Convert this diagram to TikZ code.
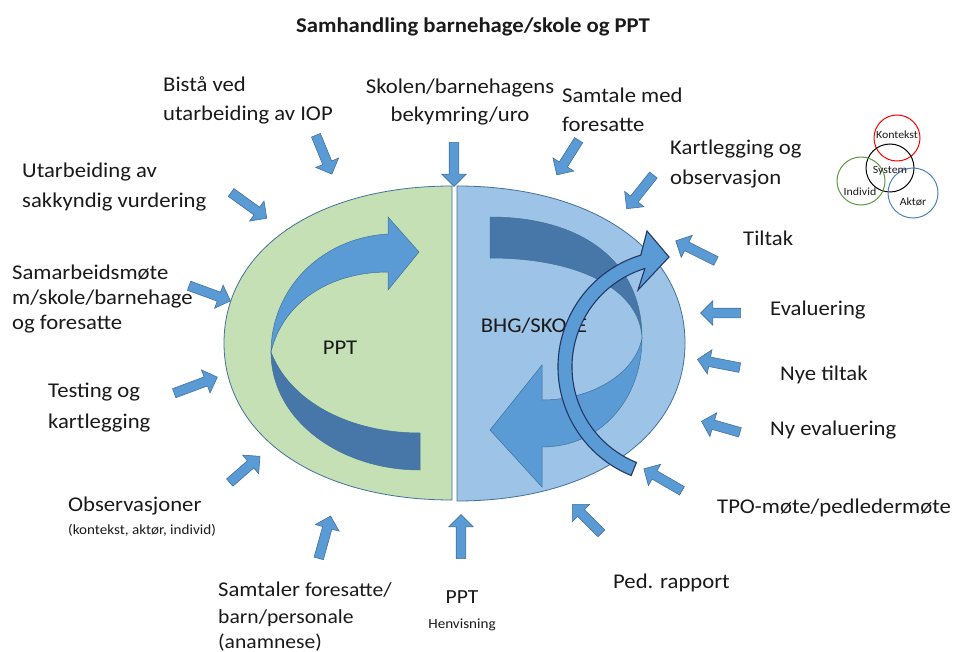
\documentclass[tikz,border=0pt]{standalone}
\usepackage{fontspec}
\setmainfont{Carlito}[FakeStretch=1.08]
\usetikzlibrary{shapes.arrows}
\definecolor{arrfill}{HTML}{5B9BD5}
\definecolor{arrline}{HTML}{41719C}
\definecolor{greenfill}{HTML}{C5E0B4}
\definecolor{bluefill}{HTML}{9DC3E6}
\definecolor{darkband}{HTML}{4677A8}
\definecolor{navyline}{HTML}{203864}
\definecolor{txt}{HTML}{1A1A1A}
\definecolor{venngreen}{HTML}{5E9A44}
\definecolor{vennblue}{HTML}{4F81BD}
\begin{document}
\begin{tikzpicture}[x=1pt,y=-1pt,
  blk/.style={single arrow, draw=arrline, fill=arrfill, line width=0.6pt,
    inner sep=4.5pt, single arrow head extend=7.5pt, single arrow tip angle=90,
    anchor=center},
  lbl/.style={anchor=base west, inner sep=0pt, font=\fontsize{21}{29}\selectfont,
    align=left, text=txt},
  small/.style={anchor=base west, inner sep=0pt, font=\fontsize{14}{16}\selectfont, text=txt},
  venn/.style={line width=1pt},
  vlbl/.style={inner sep=0pt, font=\fontsize{11}{12}\selectfont, text=txt}
]
\useasboundingbox (0,0) rectangle (968,652);
\fill[white] (0,0) rectangle (968,652);

% title
\node[inner sep=0pt, font=\bfseries\fontsize{21}{25}\selectfont, text=txt] (title) at (473,27) {Samhandling barnehage/skole og PPT};

% main halves
\path[draw=arrline, fill=greenfill, line width=0.8pt] (452,186) .. controls (316,186) and (224,250) .. (224,343) .. controls (224,436) and (316,500) .. (452,500) -- cycle;
\path[draw=arrline, fill=bluefill, line width=0.8pt] (457,186) .. controls (593,186) and (685,250) .. (685,343) .. controls (685,436) and (593,501) .. (457,501) -- cycle;

% PPT ribbon arrow
\path[draw=arrline, fill=arrfill, line width=0.5pt] (388,234) .. controls (320,238) and (271,290) .. (271,352) .. controls (283,302) and (330,272) .. (388,272) -- (388,290) -- (419,252) -- (388,217) -- cycle;
\path[draw=arrline, fill=darkband, line width=0.5pt] (271,352) .. controls (271,420) and (340,470) .. (420,470) -- (420,433) .. controls (350,433) and (290,402) .. (271,352) -- cycle;

% BHG ribbon arrow
\path[draw=arrline, fill=darkband, line width=0.5pt] (490,217) .. controls (580,217) and (642,260) .. (642,338) .. controls (640,290) and (580,258) .. (490,258) -- cycle;
\path[draw=arrline, fill=arrfill, line width=0.5pt] (642,338) .. controls (642,400) and (600,447) .. (542,447) -- (542,487) -- (490,430) -- (542,365) -- (542,400) .. controls (590,400) and (635,375) .. (642,338) -- cycle;

\node[inner sep=0pt, font=\fontsize{21}{25}\selectfont, text=txt] (ppt) at (340,348) {PPT};
\node[inner sep=0pt, font=\fontsize{21}{25}\selectfont, text=txt] (bhg) at (534,326) {BHG/SKOLE};

% arc arrow
\begin{scope}[shift={(675,367)}, y=1pt]
\path[draw=navyline, fill=arrfill, line width=1.1pt, line join=miter]
  (248:117) arc[start angle=248, end angle=107, radius=117] -- (-28,136) -- (-6,110) -- (-37,77) -- (107:103) arc[start angle=107, end angle=248, radius=103] -- cycle;
\end{scope}

% block arrows
\node[blk, rotate=-90,   minimum height=44pt] (a1)  at (454,162) {};
\node[blk, rotate=-67.7, minimum height=42pt] (a2)  at (323,152.5) {};
\node[blk, rotate=-35.8, minimum height=44pt] (a3)  at (247,204) {};
\node[blk, rotate=-20.1, minimum height=44pt] (a4)  at (207.5,292.5) {};
\node[blk, rotate=20.4,  minimum height=46pt] (a5)  at (193.5,386) {};
\node[blk, rotate=41,    minimum height=40pt] (a6)  at (243,471) {};
\node[blk, rotate=74.4,  minimum height=44pt] (a7)  at (324,539.5) {};
\node[blk, rotate=90,    minimum height=44pt] (a8)  at (461,539) {};
\node[blk, rotate=135,   minimum height=41pt] (a9)  at (588.5,520.5) {};
\node[blk, rotate=150,   minimum height=44pt] (a10) at (665,481) {};
\node[blk, rotate=164,   minimum height=40pt] (a11) at (723,427.5) {};
\node[blk, rotate=169,   minimum height=43pt] (a12) at (721,364) {};
\node[blk, rotate=180,   minimum height=40pt] (a13) at (723,313) {};
\node[blk, rotate=153.4, minimum height=45pt] (a14) at (698,252) {};
\node[blk, rotate=-128.5,minimum height=43pt] (a15) at (641.5,190) {};
\node[blk, rotate=-122.2,minimum height=41pt] (a16) at (569,155.5) {};

% labels (base = baseline of last line)
\node[lbl] (l1) at (163,121) {Bistå ved\\utarbeiding av IOP};
\node[lbl, anchor=base, align=center, font=\fontsize{21}{28}\selectfont] (l2) at (460,122) {Skolen/barnehagens\\bekymring/uro};
\node[lbl] (l3) at (562,132) {Samtale med\\foresatte};
\node[lbl, font=\fontsize{21}{30}\selectfont] (l4) at (670,185) {Kartlegging og\\observasjon};
\node[lbl] (l5) at (743,245) {Tiltak};
\node[lbl] (l6) at (770,315) {Evaluering};
\node[lbl] (l7) at (780,380) {Nye tiltak};
\node[lbl] (l8) at (770,435) {Ny evaluering};
\node[lbl] (l9) at (717,513) {TPO-møte/pedledermøte};
\node[lbl] (l10) at (613,588) {Ped. rapport};
\node[lbl, anchor=base, font=\fontsize{20}{24}\selectfont] (l11) at (462,603) {PPT};
\node[small, anchor=base] (l11b) at (462,628) {Henvisning};
\node[lbl] (l12) at (218,596) {Samtaler {\fontsize{20}{24}\selectfont foresatte/}};
\node[lbl, font=\fontsize{20}{25}\selectfont] (l12b) at (218,648) {barn/personale\\(anamnese)};
\node[lbl] (l13) at (68,511) {Observasjoner};
\node[small] (l13b) at (68,534) {(kontekst, aktør, individ)};
\node[lbl, font=\fontsize{21}{31}\selectfont] (l14) at (48,428) {Testing og\\kartlegging};
\node[lbl, font=\fontsize{21}{25}\selectfont] (l15) at (12,329) {Samarbeidsmøte\\m/skole/barnehage\\og foresatte};
\node[lbl, font=\fontsize{21}{30}\selectfont] (l16) at (22,208) {Utarbeiding av\\sakkyndig vurdering};

% venn
\draw[venn, red] (897,138) circle[radius=23];
\draw[venn, black] (890,168) circle[radius=24];
\draw[venn, venngreen] (861,181) circle[radius=24];
\draw[venn, vennblue] (913,193) circle[radius=25];
\node[vlbl] (v1) at (897,135) {Kontekst};
\node[vlbl] (v2) at (890,171) {System};
\node[vlbl] (v3) at (860,192) {Individ};
\node[vlbl] (v4) at (913,202) {Aktør};
\end{tikzpicture}
\end{document}
